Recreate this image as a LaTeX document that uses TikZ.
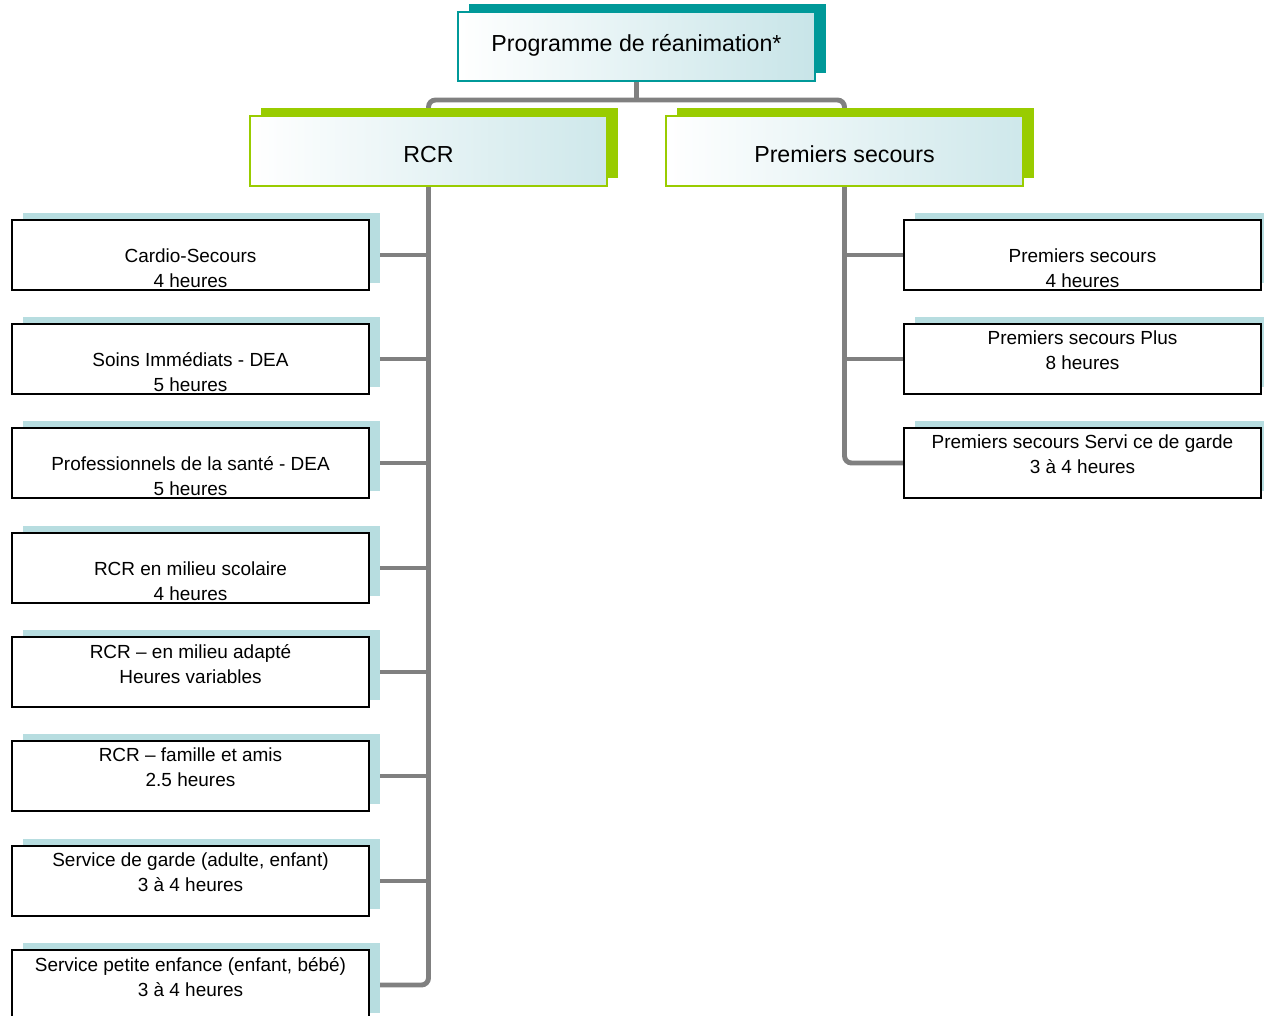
\documentclass[tikz,border=0pt]{standalone}
\usepackage{fontspec}
\setmainfont{Liberation Sans}
\usepackage{xcolor}
\usetikzlibrary{shadows,backgrounds}

\definecolor{tealdark}{HTML}{009999}
\definecolor{limegreen}{HTML}{99CC00}
\definecolor{iceblue}{HTML}{B7DDE0}
\definecolor{headblue}{HTML}{BEE0E4}
\definecolor{linkgray}{HTML}{808080}

\begin{document}
\begin{tikzpicture}[x=0.02cm, y=-0.02cm,
  top/.style={rectangle, draw=tealdark, line width=0.8pt, left color=white,
    right color=headblue!85, minimum width=7.14cm, minimum height=1.38cm,
    font=\fontsize{13.2}{16}\selectfont, text height=6pt, text depth=0pt,
    general shadow={fill=tealdark, shadow xshift=0.22cm, shadow yshift=0.16cm}},
  heading/.style={rectangle, draw=limegreen, line width=1.1pt, left color=white,
    right color=headblue!75, minimum width=7.14cm, minimum height=1.4cm,
    font=\fontsize{13.2}{16}\selectfont, text height=13pt, text depth=0pt,
    general shadow={fill=limegreen, shadow xshift=0.22cm, shadow yshift=0.16cm}},
  course/.style={rectangle, draw, line width=0.85pt, fill=white,
    minimum width=7.14cm, minimum height=1.4cm, inner sep=0pt, align=center,
    font=\fontsize{10.8}{14.2}\selectfont,
    general shadow={fill=iceblue, shadow xshift=0.22cm, shadow yshift=0.14cm}},
  link/.style={draw=linkgray, line width=2.8pt, rounded corners=4pt}
]
  \useasboundingbox (0,0) rectangle (1264,1015);

  % Top of the chart
  \node[top] (prog) at (636.5, 46.5) {Programme de réanimation*};
  \node[heading] (rcr) at (428.5, 151) {RCR};
  \node[heading] (ps) at (844.5, 151) {Premiers secours};

  % RCR courses
  \node[course] (c1) at (190.5, 255) {\mbox{}\\[9pt]Cardio-Secours\\4 heures};
  \node[course] (c2) at (190.5, 359) {\mbox{}\\[9pt]Soins Immédiats - DEA\\5 heures};
  \node[course] (c3) at (190.5, 463) {\mbox{}\\[9pt]Professionnels de la santé - DEA\\5 heures};
  \node[course] (c4) at (190.5, 568) {\mbox{}\\[9pt]RCR en milieu scolaire\\4 heures};
  \node[course] (c5) at (190.5, 672) {RCR -- en milieu adapté\\Heures variables\\[-4.6pt]\mbox{}};
  \node[course] (c6) at (190.5, 776) {RCR -- famille et amis\\2.5 heures\\[-4.6pt]\mbox{}};
  \node[course] (c7) at (190.5, 881) {Service de garde (adulte, enfant)\\3 à 4 heures\\[-4.6pt]\mbox{}};
  \node[course] (c8) at (190.5, 985) {Service petite enfance (enfant, bébé)\\3 à 4 heures\\[-4.6pt]\mbox{}};

  % Premiers secours courses
  \node[course] (p1) at (1082.5, 255) {\mbox{}\\[9pt]Premiers secours\\4 heures};
  \node[course] (p2) at (1082.5, 359) {Premiers secours Plus\\8 heures\\[-4.6pt]\mbox{}};
  \node[course] (p3) at (1082.5, 463) {Premiers secours Servi ce de garde\\3 à 4 heures\\[-4.6pt]\mbox{}};

  % Connectors
  \begin{scope}[on background layer]
    \coordinate (split) at (636.5, 100);
    \draw[link] (prog.south) -- (split);
    \draw[link] (rcr.north) -- (rcr.north |- split) -- (ps.north |- split) -- (ps.north);
    \draw[link] (rcr.south) |- (c8.east);
    \foreach \c in {c1,c2,c3,c4,c5,c6,c7}
      \draw[link] (\c.east) -- (\c.east -| rcr.south);
    \draw[link] (ps.south) |- (p3.west);
    \foreach \p in {p1,p2}
      \draw[link] (\p.west) -- (\p.west -| ps.south);
  \end{scope}
\end{tikzpicture}
\end{document}
